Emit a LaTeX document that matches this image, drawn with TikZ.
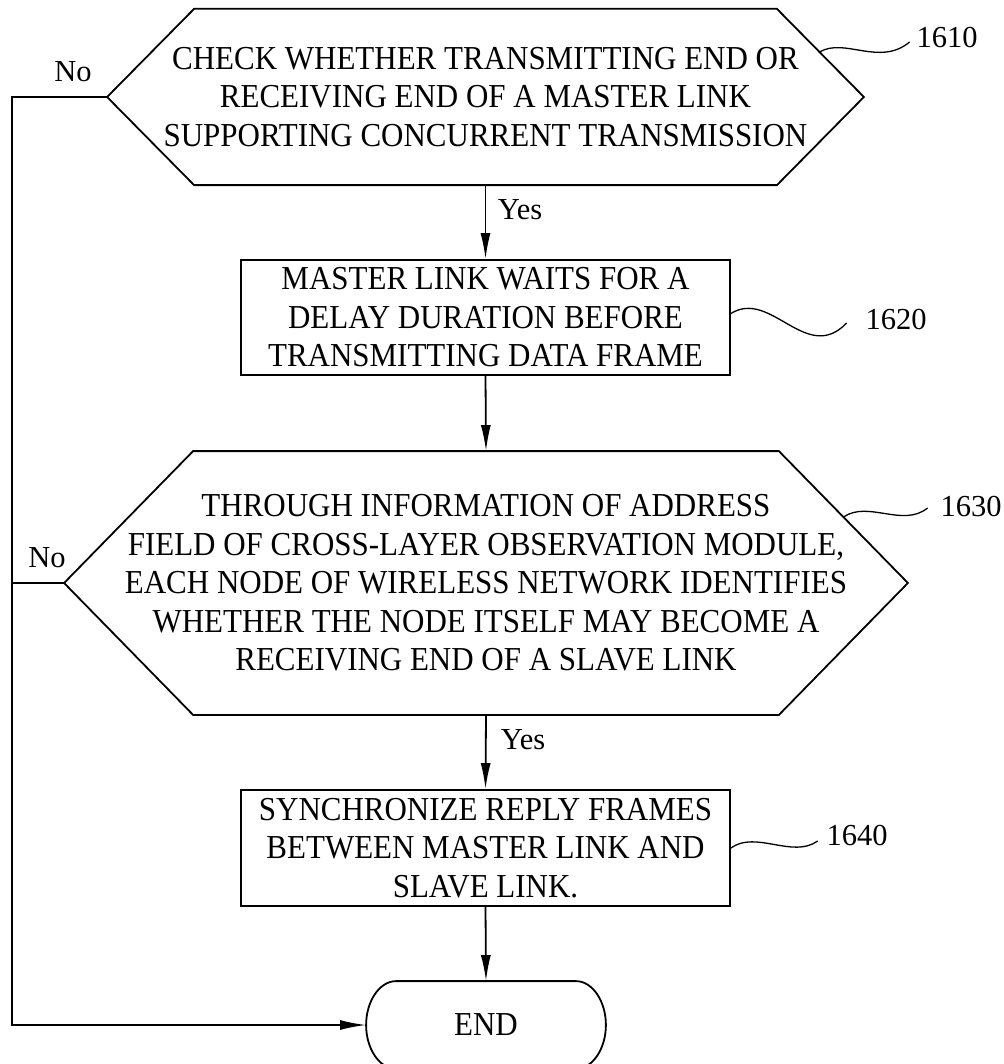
\documentclass[tikz,border=0pt]{standalone}
\usepackage{fontspec}
\setmainfont{Liberation Serif}
\newfontfamily\stepfont[FakeStretch=0.925]{Liberation Serif}
\usetikzlibrary{arrows.meta,calc}

\begin{document}
\begin{tikzpicture}[x=1pt,y=-1pt,line width=1.8pt,
  every node/.style={inner sep=0pt},
  steptext/.style={align=center,font=\stepfont\fontsize{33.5}{38.5}\selectfont},
  boxstep/.style={steptext,draw,minimum width=489pt},
  lbl/.style={font=\fontsize{30.5}{36}\selectfont},
  arr/.style={-{Latex[length=26pt,width=10pt]}},
  lead/.style={line width=1.3pt}]
\useasboundingbox (0,0) rectangle (1003,1064);

% decision 1610
\node[steptext,minimum width=755pt,minimum height=174.5pt] (d1) at (485.5,97)
  {CHECK WHETHER TRANSMITTING END OR\\RECEIVING END OF A MASTER LINK\\SUPPORTING CONCURRENT TRANSMISSION};
\coordinate (d1ne) at ($(d1.north east)+(-87,0)$);
\draw ($(d1.north west)+(87,0)$) -- (d1ne) -- (d1.east)
  -- ($(d1.south east)+(-87,0)$) -- ($(d1.south west)+(87,0)$) -- (d1.west) -- cycle;

% process 1620
\node[boxstep,minimum height=115pt] (b1) at (485.5,317.5)
  {MASTER LINK WAITS FOR A\\DELAY DURATION BEFORE\\TRANSMITTING DATA FRAME};

% decision 1630
\node[steptext,minimum width=842pt,minimum height=262pt] (d2) at (486,583)
  {THROUGH INFORMATION OF ADDRESS\\FIELD OF CROSS-LAYER OBSERVATION MODULE,\\EACH NODE OF WIRELESS NETWORK IDENTIFIES\\WHETHER THE NODE ITSELF MAY BECOME A\\RECEIVING END OF A SLAVE LINK};
\coordinate (d2ne) at ($(d2.north east)+(-129,0)$);
\draw ($(d2.north west)+(129,0)$) -- (d2ne) -- (d2.east)
  -- ($(d2.south east)+(-129,0)$) -- ($(d2.south west)+(129,0)$) -- (d2.west) -- cycle;

% process 1640
\node[boxstep,minimum height=116pt] (b2) at (485.5,848)
  {SYNCHRONIZE REPLY FRAMES\\BETWEEN MASTER LINK AND\\SLAVE LINK.};

% terminal
\node[steptext,minimum width=238pt,minimum height=86pt] (e) at (486,1025) {END};
\draw ($(e.north west)+(30,0)$) -- ($(e.north east)+(-30,0)$)
  .. controls +(16.6,0) and +(0,-23.7) .. (e.east)
  .. controls +(0,23.7) and +(16.6,0) .. ($(e.south east)+(-30,0)$)
  -- ($(e.south west)+(30,0)$)
  .. controls +(-16.6,0) and +(0,23.7) .. (e.west)
  .. controls +(0,-23.7) and +(-16.6,0) .. ($(e.north west)+(30,0)$) -- cycle;

% flow
\draw[arr] (d1.south) -- (b1.north);
\draw[arr] (b1.south) -- (d2.north);
\draw[arr] (d2.south) -- (b2.north);
\draw[arr] (b2.south) -- (e.north);
\coordinate (lft) at (12,97);
\draw[arr] (d1.west) -- (lft) |- (e.west);
\draw (d2.west) -- (d2.west -| lft);

% branch labels
\node[lbl,anchor=west] (y1) at (497,210) {Yes};
\node[lbl,anchor=west] (y2) at (500,740) {Yes};
\node[lbl] (n1) at (73,72) {No};
\node[lbl] (n2) at (47,558) {No};

% reference numerals
\node[lbl] (r1) at (947,38) {1610};
\node[lbl] (r2) at (896,320) {1620};
\node[lbl] (r3) at (971,507) {1630};
\node[lbl] (r4) at (857,835) {1640};

\coordinate (s1) at ($(d1ne)!0.49!(d1.east)$);
\coordinate (s3) at ($(d2ne)!0.5!(d2.east)$);
\draw[lead] (s1) .. controls +(25,-15) and +(-30,25) .. ($(r1.west)+(-6,4)$);
\draw[lead] ($(b1.east)+(0,-4)$) .. controls +(40,-25) and +(-40,42) .. ($(r2.west)+(-18,3)$);
\draw[lead] (s3) .. controls +(25,-17) and +(-25,20) .. ($(r3.west)+(-12,1)$);
\draw[lead] (b2.east) .. controls +(25,-18) and +(-25,18) .. ($(r4.west)+(-8,6)$);
\end{tikzpicture}
\end{document}
